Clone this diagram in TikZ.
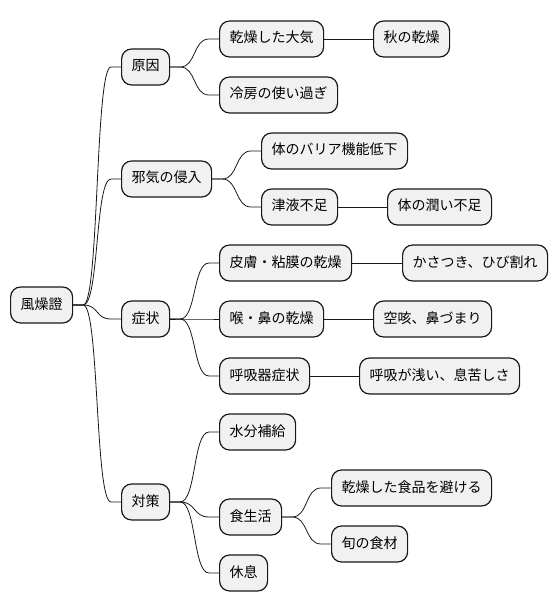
\documentclass[tikz,border=0pt]{standalone}
\usepackage{fontspec}
\setmainfont{Noto Sans CJK JP}
\definecolor{boxfill}{HTML}{F1F1F1}
\definecolor{boxline}{HTML}{181818}
\tikzset{
    topic/.style={draw=boxline, line width=1.2pt, fill=boxfill,
        rounded corners=10pt, anchor=west, inner xsep=10pt,
        minimum height=36pt, text height=11pt, text depth=3pt,
        font=\fontsize{14}{16}\selectfont},
    branch/.style={draw=boxline, line width=0.8pt,
        to path={-- ++(10,0) .. controls +(16,0) and +(-16,0)
            .. ([xshift=-10pt]\tikztotarget) -- (\tikztotarget)}},
    link/.style={draw=boxline, line width=0.8pt}
}
\begin{document}
\begin{tikzpicture}[x=1pt,y=-1pt]
    \useasboundingbox (0,0) rectangle (558,612);
    %% Root and first level
    \node[topic] (root) at (10,305) {風燥證};
    \node[topic] (cause) at (121,67) {原因};
    \node[topic] (invade) at (121,179) {邪気の侵入};
    \node[topic] (symptom) at (121,319) {症状};
    \node[topic] (measure) at (121,502) {対策};
    %% Causes
    \node[topic] (dryair) at (219,39) {乾燥した大気};
    \node[topic] (autumn) at (373,39) {秋の乾燥};
    \node[topic] (aircon) at (219,95) {冷房の使い過ぎ};
    %% Invasion
    \node[topic] (barrier) at (261,151) {体のバリア機能低下};
    \node[topic] (fluid) at (261,207) {津液不足};
    \node[topic] (moist) at (387,207) {体の潤い不足};
    %% Symptoms
    \node[topic] (skin) at (219,263) {皮膚・粘膜の乾燥};
    \node[topic] (rough) at (402,263) {かさつき、ひび割れ};
    \node[topic] (throat) at (219,319) {喉・鼻の乾燥};
    \node[topic] (cough) at (373,319) {空咳、鼻づまり};
    \node[topic] (resp) at (219,376) {呼吸器症状};
    \node[topic] (breath) at (359,376) {呼吸が浅い、息苦しさ};
    %% Measures
    \node[topic] (water) at (219,432) {水分補給};
    \node[topic] (diet) at (219,517) {食生活};
    \node[topic] (avoid) at (331,488) {乾燥した食品を避ける};
    \node[topic] (season) at (331,544) {旬の食材};
    \node[topic] (rest) at (219,573) {休息};
    %% Curved branches
    \foreach \a/\b in {root/cause, root/invade, root/symptom, root/measure,
        cause/dryair, cause/aircon, invade/barrier, invade/fluid,
        symptom/skin, symptom/throat, symptom/resp,
        measure/water, measure/diet, measure/rest, diet/avoid, diet/season}
        \draw[branch] (\a.east) to (\b.west);
    %% Straight links
    \foreach \a/\b in {dryair/autumn, fluid/moist, skin/rough,
        throat/cough, resp/breath}
        \draw[link] (\a.east) -- (\b.west);
\end{tikzpicture}
\end{document}
